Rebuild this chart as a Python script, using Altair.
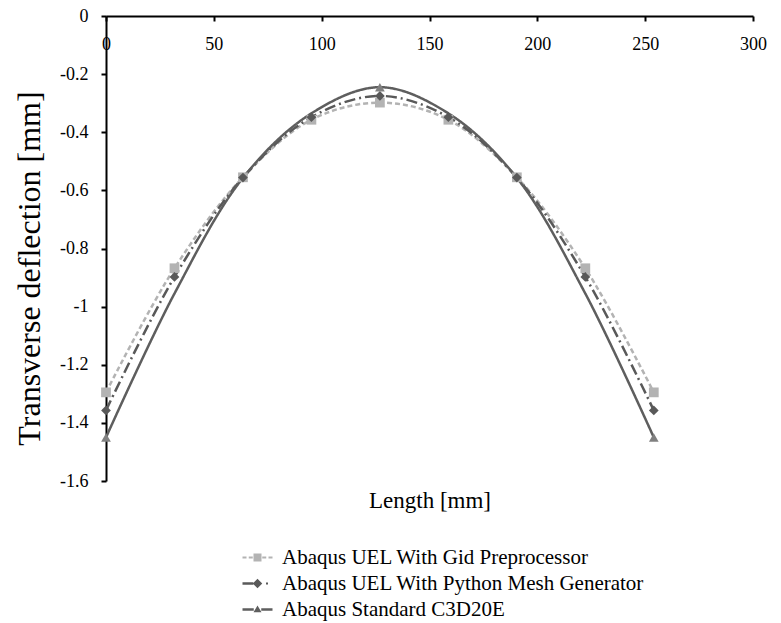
import altair as alt
import pandas as pd

# ---- data ----
length_mm = [0, 31.75, 63.5, 95.25, 127, 158.75, 190.5, 222.25, 254]
gid_defl = [-1.295, -0.868, -0.555, -0.357, -0.298, -0.357, -0.555, -0.868, -1.295]
python_defl = [-1.357, -0.898, -0.556, -0.348, -0.275, -0.348, -0.556, -0.898, -1.357]
standard_defl = [-1.45, -0.955, -0.557, -0.335, -0.245, -0.335, -0.557, -0.955, -1.45]
standard_marker_x = [0, 127, 254]
standard_marker_y = [-1.45, -0.245, -1.45]

series_names = [
    "Abaqus UEL With Gid Preprocessor",
    "Abaqus UEL With Python Mesh Generator",
    "Abaqus Standard C3D20E",
]
line_colors = ["#b3b3b3", "#595959", "#5e5e5e"]
marker_colors = ["#b3b3b3", "#595959", "#808080"]
marker_shapes = ["square", "diamond", "triangle-up"]
dash_styles = [[5, 3], [11, 4, 2, 4], [1, 0]]
x_ticks = [0, 50, 100, 150, 200, 250, 300]
y_ticks = [0, -0.2, -0.4, -0.6, -0.8, -1, -1.2, -1.4, -1.6]

legend_paths = [
    "M-3,-0.22H-2.2V0.22H-3Z M-1.75,-0.22H-0.95V0.22H-1.75Z "
    "M-0.8,-0.8H0.8V0.8H-0.8Z M0.95,-0.22H1.75V0.22H0.95Z M2.2,-0.22H3V0.22H2.2Z",
    "M-3,-0.24H-0.85V0.24H-3Z M0,-0.95L0.95,0L0,0.95L-0.95,0Z M1.7,-0.2H2.1V0.2H1.7Z",
    "M-3,-0.24H-0.75V0.24H-3Z M0,-0.8L0.8,0.55L-0.8,0.55Z M0.75,-0.24H3V0.24H0.75Z",
]

line_dfs = [
    pd.DataFrame({"x": length_mm, "y": gid_defl}),
    pd.DataFrame({"x": length_mm, "y": python_defl}),
    pd.DataFrame({"x": length_mm, "y": standard_defl}),
]
marker_dfs = [
    pd.DataFrame({"x": length_mm, "y": gid_defl}),
    pd.DataFrame({"x": length_mm, "y": python_defl}),
    pd.DataFrame({"x": standard_marker_x, "y": standard_marker_y}),
]
legend_df = pd.DataFrame({"label": series_names, "x": [1000] * 3, "y": [-0.8] * 3})

FONT = "Liberation Serif"

x_scale = alt.Scale(domain=[0, 300], nice=False)
y_scale = alt.Scale(domain=[-1.6, 0], nice=False)

x_axis = alt.Axis(
    orient="bottom", offset=-465, values=x_ticks, grid=False, title="Length [mm]",
    titleY=484, titleBaseline="middle", titleFontSize=23, titleFont=FONT,
    titleFontWeight="normal", titleColor="#000",
    labelFont=FONT, labelFontSize=18, labelColor="#000", labelPadding=14,
    labelFlush=False, domainColor="#000", domainWidth=2, tickColor="#000",
    tickWidth=2, tickSize=5,
)
y_axis = alt.Axis(
    values=y_ticks, grid=False, title="Transverse deflection [mm]",
    titleX=-77, titleY=252, titleAngle=270, titleBaseline="middle", titleAlign="center",
    titleFontSize=32, titleFont=FONT, titleFontWeight="normal", titleColor="#000",
    labelFont=FONT, labelFontSize=18, labelColor="#000", labelPadding=13,
    labelExpr="replace(format(datum.value, '~g'), '\u2212', '-')",
    domainColor="#000", domainWidth=2, tickColor="#000", tickWidth=2, tickSize=5,
)

line_layers = []
for i, (df, col, dash) in enumerate(zip(line_dfs, line_colors, dash_styles)):
    if i == 0:
        enc = {"x": alt.X("x:Q", scale=x_scale, axis=x_axis),
               "y": alt.Y("y:Q", scale=y_scale, axis=y_axis)}
    else:
        enc = {"x": "x:Q", "y": "y:Q"}
    line_layers.append(
        alt.Chart(df).mark_line(strokeWidth=2.5, interpolate="catmull-rom", color=col,
                                strokeDash=dash).encode(**enc)
    )

marker_layers = [
    alt.Chart(df).mark_point(filled=True, size=95, opacity=1, shape=shp, color=col).encode(
        x="x:Q", y="y:Q"
    )
    for df, shp, col in zip(marker_dfs, marker_shapes, marker_colors)
]

legend_layer = alt.Chart(legend_df).mark_point(filled=True, size=136, opacity=1, clip=True).encode(
    x="x:Q",
    y="y:Q",
    color=alt.Color(
        "label:N", scale=alt.Scale(domain=series_names, range=line_colors),
        legend=alt.Legend(
            title=None, orient="none", legendX=141, legendY=531, direction="vertical",
            labelFont=FONT, labelFontSize=21, labelColor="#000", labelOffset=14,
            rowPadding=4, symbolStrokeWidth=0, labelLimit=1000,
        ),
    ),
    shape=alt.Shape("label:N", scale=alt.Scale(domain=series_names, range=legend_paths)),
)

chart = alt.layer(*line_layers, *marker_layers, legend_layer).properties(
    width=647, height=465,
    background="white",
    autosize=alt.AutoSizeParams(type="none"),
    padding={"left": 98, "top": 8, "right": 20, "bottom": 146},
).configure_view(strokeWidth=0, stroke="transparent")

chart.save("out.html", embed_options={"renderer": "svg", "actions": False})
